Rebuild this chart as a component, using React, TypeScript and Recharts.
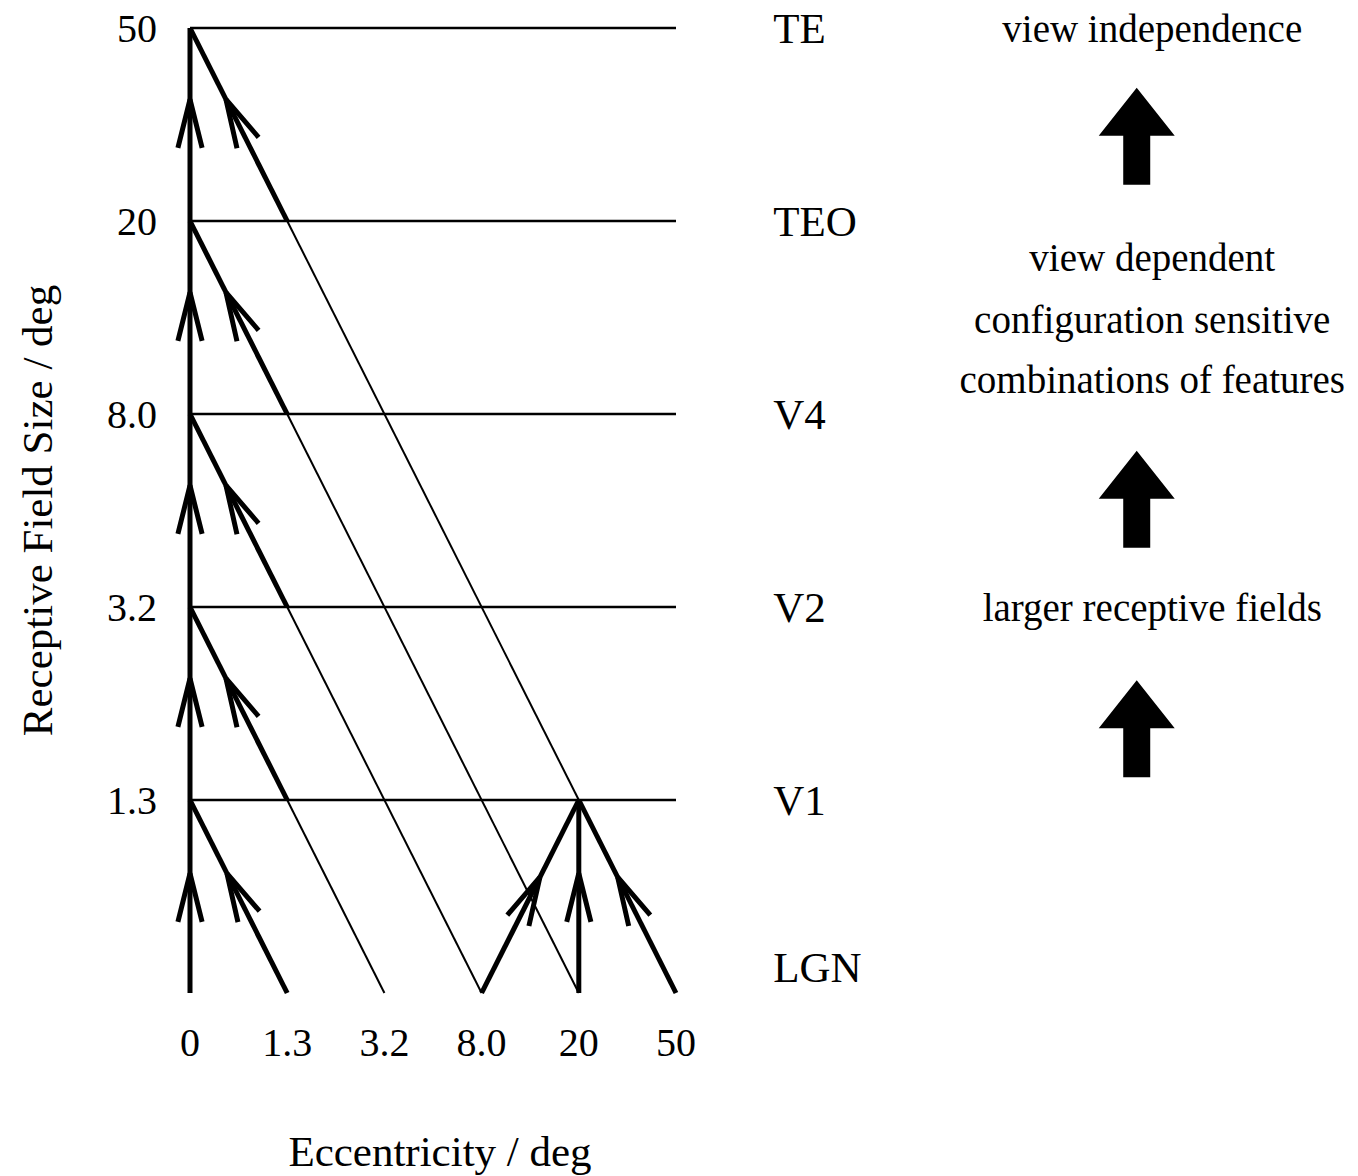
import React from "react";
import {
  ComposedChart, XAxis, YAxis, Scatter, ReferenceLine, ReferenceDot, Label,
} from "recharts";

// eccentricity categories (x index 0..5) and receptive field sizes (y index 0..5)
const eccLabels = ["0", "1.3", "3.2", "8.0", "20", "50"];
const eccTicks = [0, 1, 2, 3, 4, 5];
const sizeLabels = ["1.3", "3.2", "8.0", "20", "50"];
const sizeTicks = [1, 2, 3, 4, 5];
const areaNames = ["LGN", "V1", "V2", "V4", "TEO", "TE"];
const areaPos = [0.13, 1, 2, 3, 4, 5];
const areaX = 6.0;

// [x0, y0, x1, y1]
const thickSegs = [
  [0, 0, 0, 5],
  [0, 5, 1, 4], [0, 4, 1, 3], [0, 3, 1, 2], [0, 2, 1, 1], [0, 1, 1, 0],
  [4, 1, 3, 0], [4, 1, 4, 0], [4, 1, 5, 0],
];
const thinSegs = [
  [1, 4, 4, 1], [1, 3, 4, 0], [1, 2, 3, 0], [1, 1, 2, 0],
];
const levels = [1, 2, 3, 4, 5];

// arrow tips on the thick lines, (dx, dy) = direction in data units
const arrowTips = [
  { x: 0, y: 4.63, dx: 0, dy: 1 }, { x: 0, y: 3.63, dx: 0, dy: 1 },
  { x: 0, y: 2.63, dx: 0, dy: 1 }, { x: 0, y: 1.63, dx: 0, dy: 1 },
  { x: 0, y: 0.62, dx: 0, dy: 1 },
  { x: 0.37, y: 4.63, dx: -1, dy: 1 }, { x: 0.37, y: 3.63, dx: -1, dy: 1 },
  { x: 0.37, y: 2.63, dx: -1, dy: 1 }, { x: 0.37, y: 1.63, dx: -1, dy: 1 },
  { x: 0.38, y: 0.62, dx: -1, dy: 1 },
  { x: 3.6, y: 0.6, dx: 1, dy: 1 }, { x: 4, y: 0.62, dx: 0, dy: 1 },
  { x: 4.4, y: 0.6, dx: -1, dy: 1 },
];

const notes = [
  { text: "view independence", y: 5.0 },
  { text: "view dependent", y: 3.81 },
  { text: "configuration sensitive", y: 3.49 },
  { text: "combinations of features", y: 3.18 },
  { text: "larger receptive fields", y: 2.0 },
];
const noteX = 9.9;
const bigArrowTips = [4.69, 2.81, 1.62];
const bigArrowX = 9.74;

const W = 1358, H = 1176;
const LEFT = 190, TOP = 28, PLOT_W = 486, PLOT_H = 965;
const PXX = PLOT_W / 5, PXY = PLOT_H / 5;
const FONT = "'Liberation Serif', 'Times New Roman', serif";
const INK = "#000";

function ArrowHead(props: any) {
  const { cx, cy, payload } = props;
  const vx = payload.dx * PXX, vy = -payload.dy * PXY;
  const len = Math.hypot(vx, vy);
  const bx = -vx / len, by = -vy / len;
  const L = 50, a = (14 * Math.PI) / 180;
  const p1 = [cx + L * (bx * Math.cos(a) - by * Math.sin(a)), cy + L * (bx * Math.sin(a) + by * Math.cos(a))];
  const p2 = [cx + L * (bx * Math.cos(-a) - by * Math.sin(-a)), cy + L * (bx * Math.sin(-a) + by * Math.cos(-a))];
  return (
    <polyline points={`${p1[0]},${p1[1]} ${cx},${cy} ${p2[0]},${p2[1]}`}
      fill="none" stroke={INK} strokeWidth={5} strokeLinejoin="miter" />
  );
}

function BlockArrow(props: any) {
  const { cx, cy } = props;
  const hw = 38, hh = 48, sw = 13.5, total = 97;
  const pts = [
    [cx, cy], [cx + hw, cy + hh], [cx + sw, cy + hh], [cx + sw, cy + total],
    [cx - sw, cy + total], [cx - sw, cy + hh], [cx - hw, cy + hh],
  ].map(p => p.join(",")).join(" ");
  return <polygon points={pts} fill={INK} />;
}

const textShape = (text: string, size: number, anchor: "start" | "middle") => (props: any) => (
  <text x={props.cx} y={props.cy} textAnchor={anchor} dominantBaseline="central"
    fontFamily={FONT} fontSize={size} fill={INK}>{text}</text>
);

const tickStyle = { fontSize: 40, fill: INK, fontFamily: FONT };

export default function App() {
  return (
    <div style={{ width: W, height: H, marginTop: -8, marginLeft: -8, background: "#fff" }}>
      <ComposedChart width={W} height={H} margin={{ top: TOP, right: W - LEFT - PLOT_W, bottom: 0, left: 0 }}>
        <XAxis type="number" dataKey="x" domain={[0, 5]} ticks={eccTicks} interval={0}
          tickFormatter={(v: number) => eccLabels[v]} axisLine={false} tickLine={false}
          tickSize={0} tickMargin={35} height={H - TOP - PLOT_H} tick={tickStyle}>
          <Label value="Eccentricity / deg" position="center" dx={7} dy={66}
            style={{ fontSize: 43, fill: INK, fontFamily: FONT }} />
        </XAxis>
        <YAxis type="number" dataKey="y" domain={[0, 5]} ticks={sizeTicks} interval={0}
          tickFormatter={(v: number) => sizeLabels[v - 1]} axisLine={false} tickLine={false}
          tickSize={0} tickMargin={33} width={LEFT} tick={tickStyle}>
          <Label value="Receptive Field Size / deg" position="center" angle={-90} dx={-58}
            style={{ fontSize: 43, fill: INK, fontFamily: FONT }} />
        </YAxis>

        {levels.map(l => (
          <ReferenceLine key={`h${l}`} segment={[{ x: 0, y: l }, { x: 5, y: l }]}
            stroke={INK} strokeWidth={2.5} />
        ))}
        {thinSegs.map((s, i) => (
          <ReferenceLine key={`t${i}`} segment={[{ x: s[0], y: s[1] }, { x: s[2], y: s[3] }]}
            stroke={INK} strokeWidth={2} />
        ))}
        {thickSegs.map((s, i) => (
          <ReferenceLine key={`k${i}`} segment={[{ x: s[0], y: s[1] }, { x: s[2], y: s[3] }]}
            stroke={INK} strokeWidth={5} />
        ))}

        <Scatter data={arrowTips} dataKey="y" shape={ArrowHead} isAnimationActive={false} />

        {areaNames.map((name, i) => (
          <ReferenceDot key={`a${i}`} x={areaX} y={areaPos[i]} r={0} ifOverflow="visible"
            shape={textShape(name, 43, "start")} />
        ))}
        {bigArrowTips.map((y, i) => (
          <ReferenceDot key={`b${i}`} x={bigArrowX} y={y} r={0} ifOverflow="visible" shape={BlockArrow} />
        ))}
        {notes.map((n, i) => (
          <ReferenceDot key={`n${i}`} x={noteX} y={n.y} r={0} ifOverflow="visible"
            shape={textShape(n.text, 39, "middle")} />
        ))}
      </ComposedChart>
    </div>
  );
}
